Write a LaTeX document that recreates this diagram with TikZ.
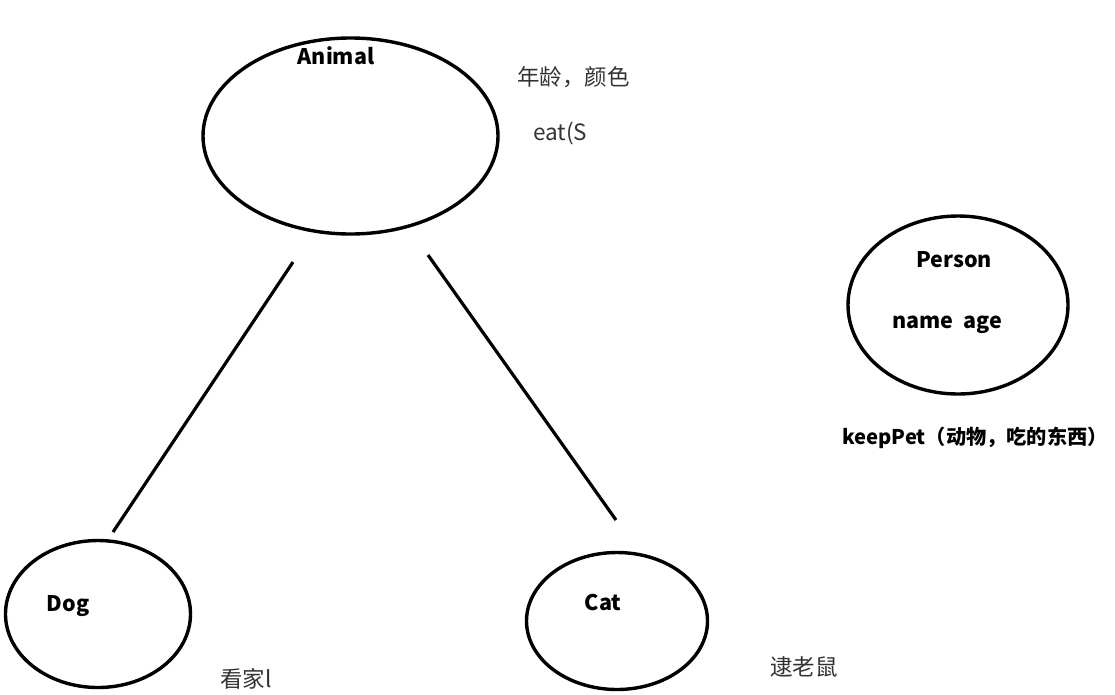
\documentclass[tikz,border=0pt]{standalone}
\usepackage{fontspec}
\setmainfont{Noto Sans CJK SC}
\usetikzlibrary{shapes.geometric}
\begin{document}
\begin{tikzpicture}[x=1pt,y=-1pt,
  blob/.style={draw=black,line width=3.4pt,ellipse,inner sep=0pt},
  title/.style={font=\fontsize{21.5}{25}\selectfont\bfseries,text=black,inner sep=0pt},
  note/.style={font=\fontsize{22.5}{26}\selectfont,text=black!80,inner sep=0pt},
  link/.style={draw=black,line width=3.2pt}]
\useasboundingbox[fill=white] (0,0) rectangle (1115,694);
\node[blob,minimum width=295pt,minimum height=196pt] (animal) at (350.5,136) {};
\node[blob,minimum width=220pt,minimum height=178pt] (person) at (958,305) {};
\node[blob,minimum width=185pt,minimum height=147pt] (dog) at (98,614) {};
\node[blob,minimum width=181pt,minimum height=137pt] (cat) at (617,621) {};
\node[title] (animalt) at (336,56) {Animal};
\node[title] (persont) at (954,260) {Person};
\node[title] (persona) at (947,325) {name\ \ age};
\node[title] (dogt) at (68,606) {Dog};
\node[title] (catt) at (603,602) {Cat};
\node[title,font=\fontsize{20.2}{24}\selectfont\bfseries,anchor=west] (keep) at (842,438) {keepPet（动物，吃的东西）};
\node[note,anchor=west] (attr) at (517,77) {年龄，颜色};
\node[note,anchor=west] (eat) at (533,133) {eat(S};
\node[note,anchor=west] (home) at (220,679) {看家l};
\node[note,anchor=west] (mouse) at (770,667) {逮老鼠};
\coordinate (a1) at (293,262);
\coordinate (d1) at (113,532);
\coordinate (a2) at (428,255);
\coordinate (c1) at (616,520);
\draw[link] (a1) -- (d1);
\draw[link] (a2) -- (c1);
\end{tikzpicture}
\end{document}
